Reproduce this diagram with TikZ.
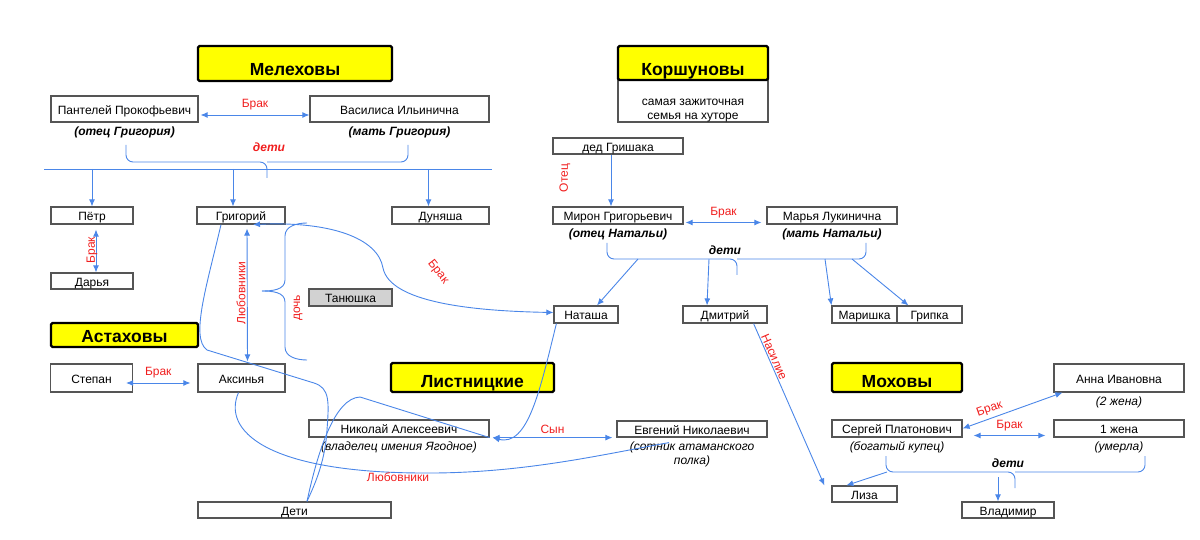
\documentclass[tikz,border=0pt]{standalone}
\usepackage{fontspec}
\setmainfont{Liberation Sans}
\usetikzlibrary{shapes, arrows.meta, positioning}
\definecolor{linkblue}{RGB}{74,134,232}
\definecolor{tagred}{RGB}{240,30,30}
\definecolor{famyellow}{RGB}{255,255,0}
\definecolor{boxgray}{RGB}{85,85,85}
\definecolor{tanfill}{RGB}{210,210,210}

\begin{document}
\begin{tikzpicture}[x=1pt, y=-1pt, >={Latex[length=7pt,width=6pt]}, font=\fontsize{12}{14}\selectfont]

\tikzstyle{person} = [draw=boxgray, line width=1.2pt, fill=white, minimum height=17pt, inner sep=1pt, text height=10.5pt, text depth=0pt]
\tikzstyle{famtitle} = [draw=black, fill=famyellow, line width=2.2pt, rounded corners=1.5pt, inner sep=0pt, text height=12.5pt, text depth=0pt, font=\bfseries\fontsize{17.5}{20}\selectfont]
\tikzstyle{remark} = [inner sep=1pt, font=\itshape\fontsize{12}{14}\selectfont]
\tikzstyle{role} = [inner sep=1pt, font=\bfseries\itshape\fontsize{12}{14}\selectfont]
\tikzstyle{tag} = [text=tagred, inner sep=1pt]
\tikzstyle{link} = [draw=linkblue, line width=0.9pt]

\useasboundingbox (0,0) rectangle (1200,540);

%Family titles
\node[famtitle, minimum width=194pt, minimum height=35pt, text height=25pt] (mel) at (295,63.5) {Мелеховы};
\node[person, minimum width=150pt, minimum height=42pt, align=center, text height=38pt] (korNote) at (693,101) {самая зажиточная\\семья на хуторе};
\node[famtitle, minimum width=150pt, minimum height=34pt, text height=25pt] (kor) at (693,63) {Коршуновы};
\node[famtitle, minimum width=147pt, minimum height=24pt, text height=15pt] (ast) at (124.5,335) {Астаховы};
\node[famtitle, minimum width=163pt, minimum height=29pt, text height=19pt] (lis) at (472.5,377.5) {Листницкие};
\node[famtitle, minimum width=130pt, minimum height=29pt, text height=19pt] (mox) at (897,377.5) {Моховы};

%Melekhov family
\node[person, minimum width=147pt, minimum height=26pt] (pant) at (124.5,109) {Пантелей Прокофьевич};
\node[person, minimum width=179pt, minimum height=26pt] (vasil) at (399.5,109) {Василиса Ильинична};
\node[role, below=3pt of pant] (pantNote) {(отец Григория)};
\node[role, below=3pt of vasil] (vasilNote) {(мать Григория)};
\node[role, text=tagred] (melKids) at (269,147) {дети};
\node[person, minimum width=82pt] (petr) at (92,215.5) {Пётр};
\node[person, minimum width=88pt] (grig) at (241,215.5) {Григорий};
\node[person, minimum width=97pt] (dun) at (440.5,215.5) {Дуняша};
\node[person, minimum width=82pt, minimum height=16pt] (darya) at (92,281) {Дарья};
\node[person, minimum width=83pt, fill=tanfill] (tan) at (350.5,297.5) {Танюшка};

%Astakhov family
\node[person, minimum width=82pt, minimum height=28pt] (step) at (91.5,378) {Степан};
\node[person, minimum width=87pt, minimum height=28pt] (aks) at (241.5,378) {Аксинья};
\node[person, minimum width=193pt, minimum height=16pt] (deti) at (294.5,510) {Дети};

%Listnitsky family
\node[person, minimum width=180pt] (nik) at (399,428.5) {Николай Алексеевич};
\node[remark, below=3pt of nik] (nikNote) {(владелец имения Ягодное)};
\node[person, minimum width=150pt, minimum height=16pt] (evg) at (692,429) {Евгений Николаевич};
\node[remark, below=3pt of evg, align=center] (evgNote) {(сотник атаманского\\полка)};

%Korshunov family
\node[person, minimum width=130pt, minimum height=16pt] (grish) at (618,146) {дед Гришака};
\node[person, minimum width=130pt] (miron) at (618,215.5) {Мирон Григорьевич};
\node[person, minimum width=130pt] (marya) at (832,215.5) {Марья Лукинична};
\node[role, below=3pt of miron] (mironNote) {(отец Натальи)};
\node[role, below=3pt of marya] (maryaNote) {(мать Натальи)};
\node[role] (korKids) at (725,250) {дети};
\node[person, minimum width=64pt] (nat) at (586,314.5) {Наташа};
\node[person, minimum width=84pt] (dmit) at (725,314.5) {Дмитрий};
\node[person, minimum width=65pt] (marish) at (864.5,314.5) {Маришка};
\node[person, minimum width=65pt] (gripka) at (929.5,314.5) {Грипка};

%Mokhov family
\node[person, minimum width=130pt] (sergey) at (897,428.5) {Сергей Платонович};
\node[remark, below=3pt of sergey] (sergeyNote) {(богатый купец)};
\node[person, minimum width=130pt, minimum height=28pt] (anna) at (1119,378) {Анна Ивановна};
\node[remark, below=3pt of anna] (annaNote) {(2 жена)};
\node[person, minimum width=130pt] (wife) at (1119,428.5) {1 жена};
\node[remark, below=3pt of wife] (wifeNote) {(умерла)};
\node[role] (moxKids) at (1008,463) {дети};
\node[person, minimum width=65pt, minimum height=16pt] (liza) at (864.5,494) {Лиза};
\node[person, minimum width=92pt, minimum height=16pt] (vlad) at (1008,510) {Владимир};

%Melekhov connections
\draw[link, <->] ([xshift=2pt, yshift=-6pt]pant.east) -- node[tag, above=4pt] {Брак} ([yshift=-6pt]vasil.west);
\draw[link, rounded corners=7pt] (126,145) -- (126,162) -- (267,162) -- (267,178);
\draw[link, rounded corners=7pt] (408,145) -- (408,162) -- (267,162);
\coordinate (melL) at (44,169);
\coordinate (melR) at (492,169);
\draw[link] (melL) -- (melR);
\draw[link, ->] (petr.north |- melL) -- (petr.north);
\draw[link, ->] ([xshift=-8pt]grig.north |- melL) -- ([xshift=-8pt]grig.north);
\draw[link, ->] ([xshift=-12pt]dun.north |- melL) -- ([xshift=-12pt]dun.north);
\draw[link, <->, shorten <=5pt] ([xshift=4pt]petr.south) -- ([xshift=4pt]darya.north);
\node[tag, rotate=90] at (92,250) {Брак};
\draw[link, <->, shorten <=4pt, shorten >=2pt] ([xshift=6pt]grig.south) -- ([xshift=6pt]aks.north);
\node[tag, rotate=90] at (241,293) {Любовники};
\draw[link] (307,223) to[out=180, in=90] (285,236) -- (285,280) to[out=270, in=0] (262,291);
\draw[link] (262,291) to[out=0, in=90] (285,302) -- (285,347) to[out=270, in=180] (307,360);
\node[tag, rotate=90] at (298,308) {дочь};

%Grigory, Aksinya and Natasha
\draw[link, <->] ([xshift=12pt]grig.south) .. controls (330,221) and (378,238) .. (383,268) .. controls (390,302) and (470,311) .. ([yshift=2pt]nat.west);
\node[tag, rotate=-52] at (438,272) {Брак};
\draw[link] ([xshift=-20pt]grig.south) .. controls (207,285) and (190,338) .. (207,350) -- (314,383) .. controls (330,388) and (329,402) .. (327,430) .. controls (325,465) and (312,490) .. ([xshift=12.5pt]deti.north);
\draw[link, <->] ([xshift=-7pt, yshift=-5pt]step.east) -- node[tag, above=4pt] {Брак} ([xshift=-7pt, yshift=-5pt]aks.west);
\draw[link] ([xshift=-3pt]aks.south) .. controls (222,430) and (265,472) .. (420,473) .. controls (520,474) and (600,455) .. ([xshift=-23pt, yshift=-5pt]evg.south);
\node[tag] at (398,477) {Любовники};

%Listnitsky connections
\draw[link] ([xshift=12.5pt]deti.north) .. controls (318,450) and (335,398) .. (360,397) -- (nik.south east);
\draw[link, ->] ([xshift=3pt]nat.south west) .. controls (540,390) and (528,447) .. ([xshift=3pt]nik.south east);
\draw[link, <->] ([xshift=3pt]nik.south east) -- node[tag, above=3pt] {Сын} ([xshift=-4pt]evg.south west);

%Korshunov connections
\draw[link, ->] ([xshift=-7pt]grish.south) -- ([xshift=-7pt]miron.north);
\node[tag, rotate=90] at (565,178) {Отец};
\draw[link, <->] ([xshift=2pt, yshift=-7pt]miron.east) -- node[tag, above=3pt] {Брак} ([xshift=-5pt, yshift=-7pt]marya.west);
\draw[link, rounded corners=7pt] (607,243) -- (607,259) -- (737,259) -- (737,275);
\draw[link, rounded corners=7pt] (866,243) -- (866,259) -- (737,259);
\coordinate (korL) at (607,259);
\draw[link, ->] ([xshift=31pt]korL) -- ([xshift=11pt]nat.north);
\draw[link, ->] ([xshift=102pt]korL) -- ([xshift=-18pt]dmit.north);
\draw[link, ->] ([xshift=218pt]korL) -- (marish.north west);
\draw[link, ->] ([xshift=245pt]korL) -- ([xshift=12pt]gripka.north west);
\draw[link, ->] ([xshift=-14pt]dmit.south east) -- node[tag, sloped, above, pos=0.22] {Насилие} ([xshift=-7pt]liza.north west);

%Mokhov connections
\draw[link, <->] (sergey.east) -- node[tag, sloped, above=2pt, pos=0.3] {Брак} ([xshift=9pt]anna.south west);
\draw[link, <->] ([xshift=11pt, yshift=-7pt]sergey.east) -- node[tag, above=3pt] {Брак} ([xshift=-8pt, yshift=-7pt]wife.west);
\draw[link, rounded corners=7pt] (886,456) -- (886,472) -- (1015,472) -- (1015,488);
\draw[link, rounded corners=7pt] (1145,456) -- (1145,472) -- (1015,472);
\draw[link, ->] (887,472) -- ([xshift=15pt]liza.north west);
\draw[link, ->] ([xshift=-10pt, yshift=24pt]vlad.north) -- ([xshift=-10pt]vlad.north);
\end{tikzpicture}
\end{document}
